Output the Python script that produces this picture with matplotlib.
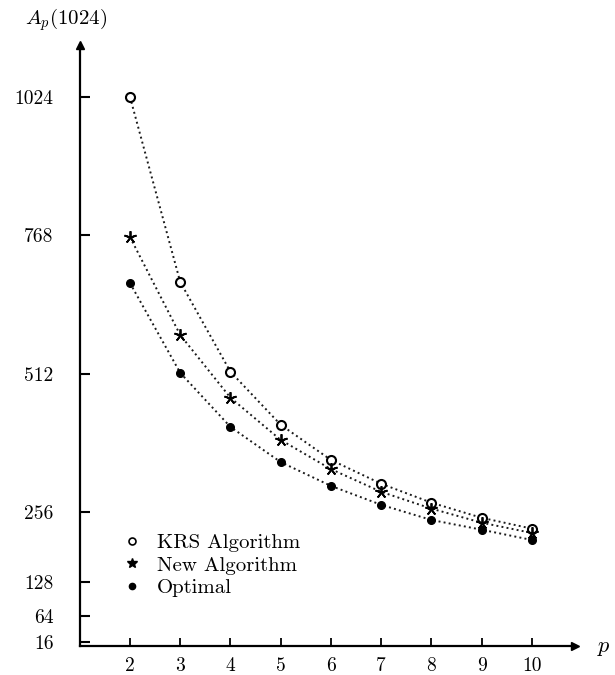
import matplotlib
matplotlib.use("Agg")
import matplotlib.pyplot as plt
from matplotlib.lines import Line2D

plt.rcParams['mathtext.fontset'] = 'cm'
plt.rcParams['axes.formatter.use_mathtext'] = True

# Data
p_values = [2, 3, 4, 5, 6, 7, 8, 9, 10]
krs = [1024, 682, 516, 418, 353, 309, 274, 246, 226]
new_alg = [765, 584, 468, 390, 336, 294, 263, 237, 218]
optimal = [680, 514, 414, 349, 305, 270, 242, 224, 205]
y_ticks = [16, 64, 128, 256, 512, 768, 1024]
x_ticks = [2, 3, 4, 5, 6, 7, 8, 9, 10]
series_names = ["KRS Algorithm", "New Algorithm", "Optimal"]

fig = plt.figure(figsize=(6.15, 6.75), dpi=100)
ax = fig.add_axes([80/615, 1-646/675, (575-80)/615, (646-45)/675])

ax.set_xlim(1.005, 10.86)
ax.set_ylim(9, 1120)

lw = 1.4
ax.plot(p_values, krs, linestyle=':', color='#1a1a1a', lw=lw, marker='o',
        mfc='white', mec='black', mew=1.5, ms=6.5, zorder=3)
ax.plot(p_values, new_alg, linestyle=':', color='#1a1a1a', lw=lw, marker=(5, 2, 0),
        mfc='black', mec='black', mew=1.3, ms=9, zorder=3)
ax.plot(p_values, optimal, linestyle=':', color='#1a1a1a', lw=lw, marker='o',
        mfc='black', mec='black', ms=5.5, zorder=3)

for s in ['top', 'right']:
    ax.spines[s].set_visible(False)
for s in ['left', 'bottom']:
    ax.spines[s].set_linewidth(1.6)

ax.set_yticks(y_ticks)
ax.set_yticklabels([str(v) for v in y_ticks], fontfamily='cmr10', fontsize=14)
ax.set_xticks(x_ticks)
ax.set_xticklabels([str(v) for v in x_ticks], fontfamily='cmr10', fontsize=14)
ax.tick_params(axis='y', direction='in', length=7, width=1.5, pad=19)
ax.tick_params(axis='x', direction='in', length=6, width=1.3, pad=8)

# axis arrows
ax.plot(0, 1, marker='^', color='black', ms=6, transform=ax.transAxes, clip_on=False)
ax.plot(1, 0, marker='>', color='black', ms=6, transform=ax.transAxes, clip_on=False)

fig.text(25/615, 1-20/675, r'$A_p(1024)$', fontsize=15, va='center', ha='left')
fig.text(597/615, 1-648/675, r'$p$', fontsize=16, va='center', ha='left')

handles = [
    Line2D([], [], linestyle='none', marker='o', mfc='white', mec='black', mew=1.2, ms=5),
    Line2D([], [], linestyle='none', marker='*', mfc='black', mec='black', ms=7),
    Line2D([], [], linestyle='none', marker='o', mfc='black', mec='black', ms=4.5),
]
leg = ax.legend(handles, series_names, loc='upper left',
                bbox_to_anchor=((115-80)/495, 1-(525-45)/601),
                frameon=False, handlelength=0.8, handletextpad=0.8,
                labelspacing=0.2, borderaxespad=0,
                prop={'family': 'cmr10', 'size': 15})

fig.savefig('out.png', dpi=100)
